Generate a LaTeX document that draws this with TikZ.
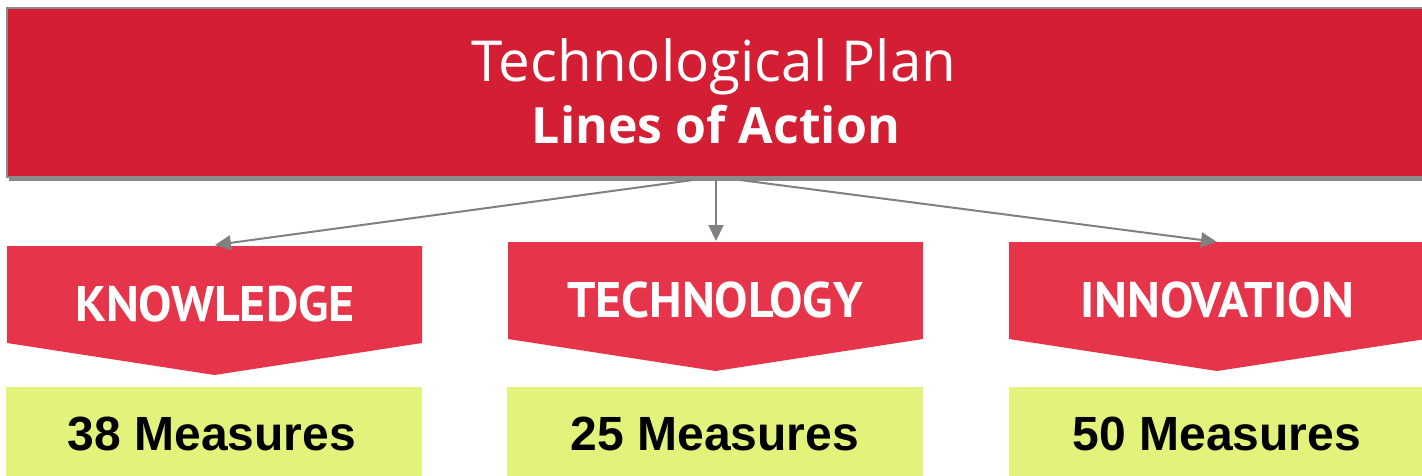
\documentclass[tikz,border=0pt]{standalone}
\usepackage{fontspec}
\setmainfont{Open Sans}
\newfontfamily\chevfont{PT Sans}
\newfontfamily\measfont{Liberation Sans}
\usetikzlibrary{arrows.meta}
\definecolor{topred}{HTML}{D31E33}
\definecolor{chevred}{HTML}{E6344A}
\definecolor{lime}{HTML}{E2F27A}
\definecolor{bordergray}{HTML}{8A8A8A}
\definecolor{arrowgray}{HTML}{808080}
\tikzset{
  chevron/.style={fill=chevred, draw=none},
  measbox/.style={fill=lime, draw=none},
  chevtext/.style={text=white, font=\chevfont\bfseries\fontsize{50}{56}\selectfont, anchor=base, inner sep=0pt},
  meastext/.style={text=black, font=\measfont\bfseries\fontsize{48}{54}\selectfont, anchor=base, inner sep=0pt},
  link/.style={draw=arrowgray, line width=2pt, -{Triangle[length=16pt,width=15pt]}, shorten >=0pt}
}
\begin{document}
\begin{tikzpicture}[x=1pt,y=-1pt]
\useasboundingbox (0,0) rectangle (1422,476);
\begin{scope}
\clip (0,0) rectangle (1422,476);
% top box with shadow
\fill[bordergray] (9,11) rectangle (1430,181);
\node[fill=topred, draw=bordergray, line width=2pt, minimum width=1423pt, minimum height=169pt, inner sep=0pt] (top) at (718.5,92.5) {};
\node[text=white, font=\fontsize{56.5}{62}\selectfont, anchor=base, inner sep=0pt] (t1) at (714,82) {Technological Plan};
\node[text=white, font=\bfseries\fontsize{50}{56}\selectfont, anchor=base, inner sep=0pt] (t2) at (716,144) {Lines of Action};
% chevrons
\path[chevron] (7,246) -- (422,246) -- (422,343) -- (214.5,375) -- (7,343) -- cycle;
\path[chevron] (508,242) -- (923,242) -- (923,339) -- (715.5,371) -- (508,339) -- cycle;
\path[chevron] (1009,242) -- (1426,242) -- (1426,339) -- (1217,371) -- (1009,339) -- cycle;
\node[chevtext] (k) at (215,321) {KNOWLEDGE};
\node[chevtext] (t) at (715,317) {TECHNOLOGY};
\node[chevtext] (i) at (1217,317) {INNOVATION};
% measure boxes
\path[measbox] (6,387) rectangle (422,480);
\path[measbox] (507,387) rectangle (923,480);
\path[measbox] (1009,387) rectangle (1426,480);
\node[meastext] (m1) at (212,450) {38 Measures};
\node[meastext] (m2) at (715,450) {25 Measures};
\node[meastext] (m3) at (1217,450) {50 Measures};
% connectors
\coordinate (o1) at (693,180);
\coordinate (o2) at (716,180);
\coordinate (o3) at (740,180);
\coordinate (kTop) at (215,245);
\coordinate (tTop) at (716,241);
\coordinate (iTop) at (1217,242);
\draw[link] (o1) -- (kTop);
\draw[link] (o2) -- (tTop);
\draw[link] (o3) -- (iTop);
\end{scope}
\end{tikzpicture}
\end{document}
